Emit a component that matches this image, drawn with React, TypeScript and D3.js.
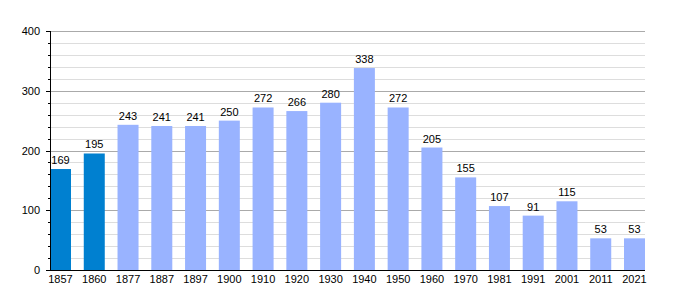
import React from "react";
import * as d3 from "d3";

const years = ["1857","1860","1877","1887","1897","1900","1910","1920","1930","1940","1950","1960","1970","1981","1991","2001","2011","2021"];
const population = [169,195,243,241,241,250,272,266,280,338,272,205,155,107,91,115,53,53];
const highlighted = ["1857","1860"];
const majorTicks = [0,100,200,300,400];
const minorTicks = d3.range(0, 401, 20);

const W = 675, H = 300;
const left = 50, right = 645, top = 31, bottom = 270;

export default function App() {
  const x = d3.scaleBand<string>().domain(years).range([left, right]).paddingInner(0.378).paddingOuter(0);
  const y = d3.scaleLinear().domain([0, 400]).range([bottom, top]);
  const font = "'Liberation Sans', Arial, sans-serif";
  return (
    <svg width={W} height={H} style={{ position: "absolute", left: 0, top: 0 }}>
      <rect width={W} height={H} fill="#fff" />
      {minorTicks.filter(t => t % 100 !== 0).map(t => (
        <line key={"m"+t} x1={left} x2={right} y1={Math.round(y(t)) + 0.5} y2={Math.round(y(t)) + 0.5} stroke="#dddddd" strokeWidth={1} />
      ))}
      {majorTicks.filter(t => t !== 0).map(t => (
        <line key={"M"+t} x1={left} x2={right} y1={Math.round(y(t)) + 0.5} y2={Math.round(y(t)) + 0.5} stroke="#aaaaaa" strokeWidth={1} />
      ))}
      {minorTicks.map(t => (
        <line key={"t"+t} x1={left - (t % 100 === 0 ? 4 : 2)} x2={left} y1={Math.round(y(t)) + 0.5} y2={Math.round(y(t)) + 0.5} stroke="#000" strokeWidth={1} />
      ))}
      {years.map((yr, i) => {
        const v = population[i];
        const bx = x(yr)!;
        return (
          <g key={yr}>
            <rect x={bx} y={y(v)} width={x.bandwidth()} height={bottom - y(v)} fill={highlighted.includes(yr) ? "#0080d0" : "#99b3ff"} />
            <text x={bx + x.bandwidth() / 2} y={y(v) - 5} textAnchor="middle" fontFamily={font} fontSize={11} fill="#000">{v}</text>
            <text x={bx + x.bandwidth() / 2} y={bottom + 12.5} textAnchor="middle" fontFamily={font} fontSize={11} fill="#000">{yr}</text>
          </g>
        );
      })}
      <line x1={left + 0.5} x2={left + 0.5} y1={top} y2={bottom + 1} stroke="#000" strokeWidth={1} />
      <line x1={left} x2={right} y1={bottom + 0.5} y2={bottom + 0.5} stroke="#000" strokeWidth={1} />
      {majorTicks.map(t => (
        <text key={"l"+t} x={left - 10} y={y(t) + 4} textAnchor="end" fontFamily={font} fontSize={11} fill="#000">{t}</text>
      ))}
    </svg>
  );
}
